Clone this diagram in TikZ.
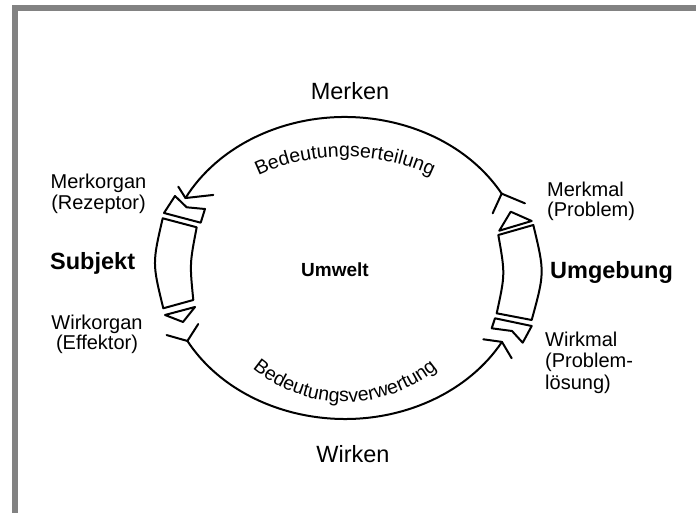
\documentclass[tikz,border=0pt]{standalone}
\usepackage{fontspec}
\setmainfont{Liberation Sans}
\usetikzlibrary{decorations.text,calc}
\definecolor{framegray}{HTML}{828282}
\newcommand\arcfont{\fontsize{19.5}{20}\selectfont}
\begin{document}
\begin{tikzpicture}[x=1pt,y=1pt,
  ln/.style={line width=2pt,line join=round,line cap=round},
  lbl/.style={font=\fontsize{20}{20.5}\selectfont,inner sep=0pt},
  big/.style={font=\fontsize{23.5}{24}\selectfont,inner sep=0pt},
  bigb/.style={font=\fontsize{23.5}{24}\selectfont\bfseries,inner sep=0pt}]
\useasboundingbox (0,0) rectangle (696,513);
\fill[white] (0,0) rectangle (696,513);
% frame
\fill[framegray] (12.3,502) rectangle (696,508);
\fill[framegray] (12.3,0) rectangle (18.3,508);

\coordinate (C) at (345,245);
\coordinate (tipL) at ($(C)+(152.4:180pt and 151pt)$);
\coordinate (forkR) at ($(C)+(29.5:180pt and 151pt)$);
\coordinate (forkL) at ($(C)+(208.9:180pt and 151pt)$);
\coordinate (tipR) at ($(C)+(330.7:180pt and 151pt)$);

% top arc (Merken) with open arrowhead and fork tail
\draw[ln] (forkR) arc[start angle=29.5,end angle=152.4,x radius=180pt,y radius=151pt];
\draw[ln] (tipL) -- +(-7.2,11.4);
\draw[ln] (tipL) -- +(27.8,3.1);
\draw[ln] (forkR) -- +(23.3,-9.7);
\draw[ln] (forkR) -- +(-9,-19.7);

% bottom arc (Wirken)
\draw[ln] (forkL) arc[start angle=208.9,end angle=330.7,x radius=180pt,y radius=151pt];
\draw[ln] (tipR) -- +(-18.7,2.6);
\draw[ln] (tipR) -- +(9.7,-16.4);
\draw[ln] (forkL) -- +(-20.8,5.9);
\draw[ln] (forkL) -- +(10.8,16.9);

% left side: receptor, subject block, effector
\draw[ln] (175,317) -- (186.7,305.7) -- (205,304) -- (200.7,290.3) -- (164,300) -- cycle;
\draw[ln] (162.7,294.7) -- (196.7,285.7) .. controls (189.7,249.4) and (189.7,249.4) .. (193.3,213)
  -- (163.3,204.7) .. controls (152.3,249.7) and (152.3,249.7) .. (162.7,294.7) -- cycle;
\draw[ln] (165,198) -- (195,206) -- (183,191) -- cycle;

% right side: Merkmal, environment block, Wirkmal
\draw[ln] (510.7,301.3) -- (531.7,292) -- (499.3,282.3) -- cycle;
\draw[ln] (498.3,278) -- (533.3,288) .. controls (544.7,240.5) and (544.7,240.5) .. (531.7,193)
  -- (496.7,199.7) .. controls (505.2,238.9) and (505.2,238.9) .. (498.3,278) -- cycle;
\draw[ln] (495,194.7) -- (531.7,187) -- (522.7,170.3) -- (512,182) -- (491.7,184.7) -- cycle;

% curved texts
\path[decorate,decoration={text along path,text align=center,
  text={|\arcfont|Bedeutungserteilung}}]
  ($(C)+(155:155pt and 111pt)$) arc[start angle=155,end angle=25,x radius=155pt,y radius=111pt];
\path[decorate,decoration={text along path,text align=center,
  text={|\arcfont|Bedeutungsverwertung}}]
  ($(C)+(205:140pt and 134pt)$) arc[start angle=205,end angle=335,x radius=140pt,y radius=134pt];

% labels
\node[big,anchor=base] (merken) at (350,413) {Merken};
\node[big,anchor=base] (wirken) at (353,50) {Wirken};
\node[font=\fontsize{19}{19}\selectfont\bfseries,inner sep=0pt,anchor=base] (umwelt) at (335,236) {Umwelt};
\node[bigb,anchor=base west] (subjekt) at (50,243) {Subjekt};
\node[bigb,anchor=base west] (umgebung) at (550,234) {Umgebung};
\node[lbl,align=center,anchor=north] (merkorgan) at (98.5,339) {Merkorgan\\(Rezeptor)};
\node[lbl,align=center,anchor=north] (wirkorgan) at (97,198.5) {Wirkorgan\\(Effektor)};
\node[lbl,align=left,anchor=north west] (merkmal) at (547,331.5) {Merkmal\\(Problem)};
\node[lbl,align=left,anchor=north west,font=\fontsize{20}{21.5}\selectfont] (wirkmal) at (545,181.5) {Wirkmal\\(Problem-\\lösung)};
\end{tikzpicture}
\end{document}
